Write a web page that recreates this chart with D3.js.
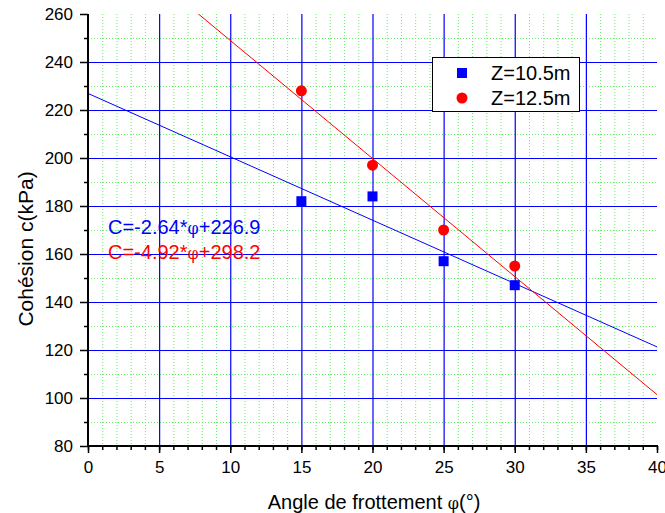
<!DOCTYPE html>
<html>
<head>
<meta charset="utf-8">
<script src="https://cdn.jsdelivr.net/npm/d3@7"></script>
<style>
  html, body { margin: 0; padding: 0; background: #fff; }
  svg { display: block; font-family: "Liberation Sans", Arial, sans-serif; }
</style>
</head>
<body>
<svg id="chart" width="665" height="513"></svg>
<script>
// Friction angle (°) at which each pair of points was measured
const angles = [15, 20, 25, 30];
// Cohesion (kPa) for each depth
const cohesionZ105 = [182, 184, 157, 147];
const cohesionZ125 = [228, 197, 170, 155];
// Linear fits C = a*φ + b
const fitZ105 = { slope: -2.64, intercept: 226.9 };
const fitZ125 = { slope: -4.92, intercept: 298.2 };
const seriesNames = ["Z=10.5m", "Z=12.5m"];
const xTicks = [0, 5, 10, 15, 20, 25, 30, 35, 40];
const yTicks = [80, 100, 120, 140, 160, 180, 200, 220, 240, 260];

const svg = d3.select("#chart");
const plotL = 88, plotR = 657, plotT = 14, plotB = 446;

const x = d3.scaleLinear().domain([0, 40]).range([plotL, plotR]);
const y = d3.scaleLinear().domain([80, 260]).range([plotB, plotT]);

const blue = "#0000ff", red = "#ff0000", green = "#66ee66";

svg.append("defs").append("clipPath").attr("id", "plot")
  .append("rect").attr("x", plotL).attr("y", plotT)
  .attr("width", plotR - plotL).attr("height", plotB - plotT);

// Minor grid (dotted green)
const minorX = d3.range(1, 40).filter(d => d % 5 !== 0);
const minorY = d3.range(90, 260, 20);
const grid = svg.append("g");
grid.selectAll(".mx").data(minorX).join("line")
  .attr("x1", d => x(d) + 0.5).attr("x2", d => x(d) + 0.5)
  .attr("y1", plotT).attr("y2", plotB)
  .attr("stroke", green).attr("stroke-width", 1).attr("stroke-dasharray", "1,2");
grid.selectAll(".my").data(minorY).join("line")
  .attr("y1", d => y(d) + 0.5).attr("y2", d => y(d) + 0.5)
  .attr("x1", plotL).attr("x2", plotR)
  .attr("stroke", green).attr("stroke-width", 1).attr("stroke-dasharray", "1,2");

// Major grid (solid blue)
grid.selectAll(".Mx").data(xTicks.filter(d => d > 0 && d < 40)).join("line")
  .attr("x1", d => x(d) + 0.5).attr("x2", d => x(d) + 0.5)
  .attr("y1", plotT).attr("y2", plotB)
  .attr("stroke", blue).attr("stroke-width", 1.2);
grid.selectAll(".My").data(yTicks.filter(d => d > 80 && d < 260)).join("line")
  .attr("y1", d => y(d) + 0.5).attr("y2", d => y(d) + 0.5)
  .attr("x1", plotL).attr("x2", plotR)
  .attr("stroke", blue).attr("stroke-width", 1.2);

// Fit lines
const fits = [[fitZ105, blue], [fitZ125, red]];
const lineG = svg.append("g").attr("clip-path", "url(#plot)");
fits.forEach(([f, c]) => {
  lineG.append("line")
    .attr("x1", x(0)).attr("y1", y(f.intercept))
    .attr("x2", x(40)).attr("y2", y(f.slope * 40 + f.intercept))
    .attr("stroke", c).attr("stroke-width", 1);
});

// Data markers
const sq = 10;
svg.append("g").selectAll("rect").data(angles).join("rect")
  .attr("x", d => x(d) - sq / 2).attr("y", (d, i) => y(cohesionZ105[i]) - sq / 2)
  .attr("width", sq).attr("height", sq).attr("fill", blue);
svg.append("g").selectAll("circle").data(angles).join("circle")
  .attr("cx", d => x(d)).attr("cy", (d, i) => y(cohesionZ125[i]))
  .attr("r", 5.5).attr("fill", red);

// Axes
const xAxis = svg.append("g").attr("transform", `translate(0,${plotB})`);
xAxis.append("g").call(d3.axisBottom(x).tickValues(d3.range(0, 41, 1)).tickSize(4).tickFormat(""))
  .call(g => g.select(".domain").remove());
xAxis.append("g").call(d3.axisBottom(x).tickValues(xTicks).tickSize(7).tickPadding(8).tickFormat(d3.format("d")))
  .call(g => g.select(".domain").remove());
xAxis.append("line").attr("x1", plotL - 1).attr("x2", plotR + 1).attr("stroke", "#000").attr("stroke-width", 2);

const yAxis = svg.append("g").attr("transform", `translate(${plotL},0)`);
yAxis.append("g").call(d3.axisLeft(y).tickValues(d3.range(90, 260, 20)).tickSize(4).tickFormat(""))
  .call(g => g.select(".domain").remove());
yAxis.append("g").call(d3.axisLeft(y).tickValues(yTicks).tickSize(8).tickPadding(7).tickFormat(d3.format("d")))
  .call(g => g.select(".domain").remove());
yAxis.append("line").attr("y1", plotT).attr("y2", plotB + 1).attr("stroke", "#000").attr("stroke-width", 2);

svg.selectAll(".tick line").attr("stroke", "#000").attr("stroke-width", 1.5);
svg.selectAll(".tick text").attr("fill", "#000").attr("font-size", 17)
  .attr("font-family", "'Liberation Sans', Arial, sans-serif");

// Axis titles
const xt = svg.append("text").attr("x", 374).attr("y", 509).attr("text-anchor", "middle")
  .attr("font-size", 20).attr("fill", "#000");
xt.append("tspan").text("Angle de frottement ");
xt.append("tspan").attr("font-family", "'DejaVu Serif', serif").attr("font-size", 16).text("φ");
xt.append("tspan").text("(°)");

svg.append("text").attr("transform", "translate(33,249) rotate(-90)")
  .attr("text-anchor", "middle").attr("font-size", 21).attr("fill", "#000")
  .text("Cohésion c(kPa)");

// Fit equations
const eqs = [[fitZ105, blue, 234], [fitZ125, red, 259]];
eqs.forEach(([f, c, by]) => {
  const t = svg.append("text").attr("x", 108).attr("y", by).attr("fill", c).attr("font-size", 20);
  t.append("tspan").text(`C=${f.slope.toFixed(2)}*`);
  t.append("tspan").attr("font-family", "'DejaVu Serif', serif").attr("font-size", 16).text("φ");
  t.append("tspan").text(`+${f.intercept.toFixed(1)}`);
});

// Legend
const lg = svg.append("g");
lg.append("rect").attr("x", 432.5).attr("y", 57.5).attr("width", 147).attr("height", 54)
  .attr("fill", "#fff").attr("stroke", "#000").attr("stroke-width", 1);
lg.append("rect").attr("x", 462 - 5).attr("y", 73 - 5).attr("width", 10).attr("height", 10).attr("fill", blue);
lg.append("circle").attr("cx", 462).attr("cy", 98).attr("r", 5.5).attr("fill", red);
seriesNames.forEach((n, i) => {
  lg.append("text").attr("x", 491).attr("y", 80 + i * 25).attr("font-size", 20).attr("fill", "#000").text(n);
});
</script>
</body>
</html>
